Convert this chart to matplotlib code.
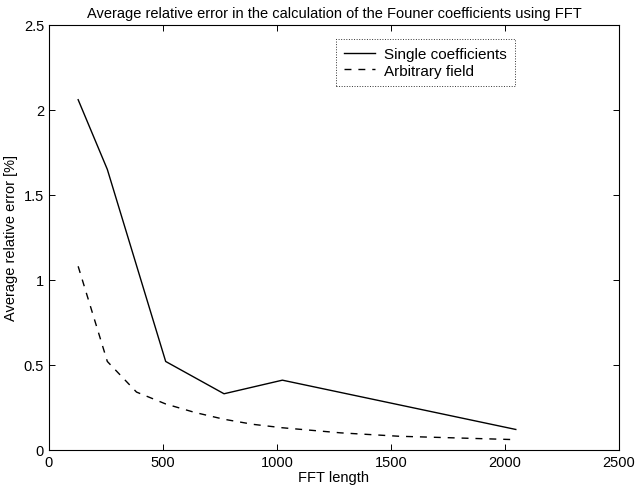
import matplotlib
matplotlib.use("Agg")
import matplotlib.pyplot as plt

# Donnees
fft_single = [128, 256, 512, 768, 1024, 2048]
err_single = [2.06, 1.65, 0.52, 0.33, 0.41, 0.12]

fft_field = [128, 256, 384, 512, 640, 768, 896, 1024, 1280, 1536, 1792, 2048]
err_field = [1.08, 0.52, 0.34, 0.27, 0.22, 0.18, 0.15, 0.13, 0.10, 0.08, 0.07, 0.06]

x_ticks = [0, 500, 1000, 1500, 2000, 2500]
y_ticks = [0, 0.5, 1, 1.5, 2, 2.5]

plt.rcParams["font.family"] = ["Liberation Sans", "DejaVu Sans"]

fig = plt.figure(figsize=(6.36, 4.89), dpi=100)
ax = fig.add_axes([0.077, 0.078, 0.896, 0.869])

ax.plot(fft_single, err_single, color="black", linewidth=1.0, label="Single coefficients")
ax.plot(fft_field, err_field, color="black", linewidth=1.0, linestyle=(0, (5, 5)),
        label="Arbitrary field")

ax.set_xlim(0, 2500)
ax.set_ylim(0, 2.5)
ax.set_xticks(x_ticks)
ax.set_yticks(y_ticks)
ax.set_yticklabels(["0", "0.5", "1", "1.5", "2", "2.5"])
ax.tick_params(direction="in", top=True, right=True, labelsize=10.5, length=4, width=0.7)
for s in ax.spines.values():
    s.set_linewidth(0.8)

ax.set_title("Average relative error in the calculation of the Founer coefficients using FFT",
             fontsize=10.5, pad=6)
ax.set_xlabel("FFT length", fontsize=10.5, labelpad=1)
ax.set_ylabel("Average relative error [%]", fontsize=10.5, labelpad=4)

leg = ax.legend(loc="upper left", bbox_to_anchor=(0.49, 0.985), fontsize=11,
                frameon=True, fancybox=False, handlelength=2.0, borderpad=0.55,
                labelspacing=0.15, handletextpad=0.6)
leg.get_frame().set_edgecolor("black")
leg.get_frame().set_linewidth(0.7)
leg.get_frame().set_linestyle(":")

fig.savefig("out.png", dpi=100)
